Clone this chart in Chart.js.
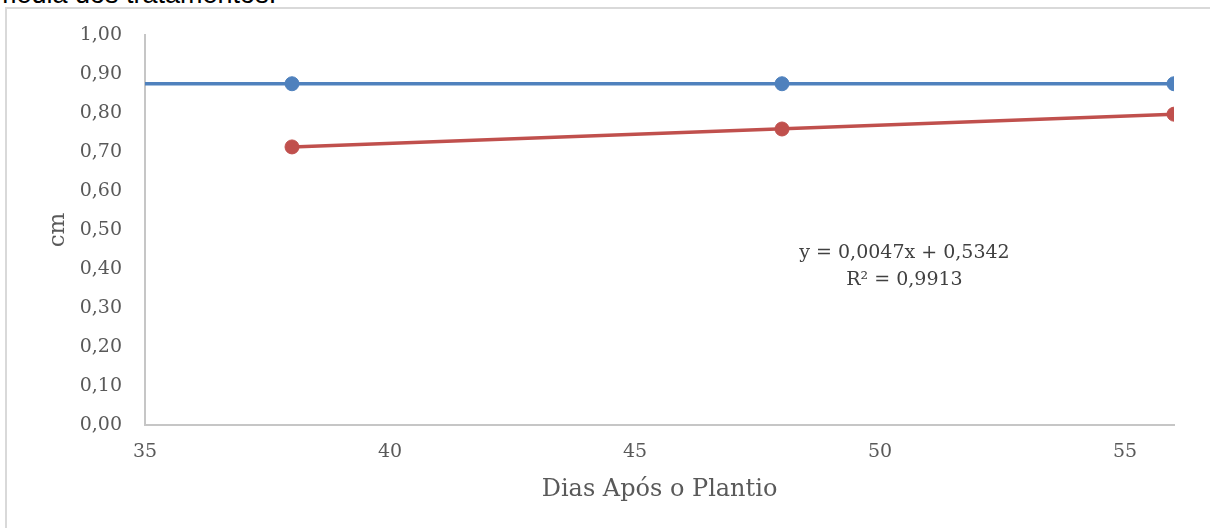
<!DOCTYPE html>
<html>
<head>
<meta charset="utf-8">
<script src="https://cdn.jsdelivr.net/npm/chart.js@4/dist/chart.umd.min.js"></script>
<style>
  html, body { margin: 0; padding: 0; background: #fff; overflow: hidden; }
  #wrap { position: relative; width: 1210px; height: 528px; }
  #texto { position: absolute; left: -6px; top: -21px; font-family: "Liberation Sans", Arial, sans-serif; font-size: 27px; color: #000; white-space: nowrap; }
  #moldura { position: absolute; left: 5px; top: 7px; width: 1220px; height: 540px; border: 2px solid #d9d9d9; box-sizing: border-box; }
  #grafico { position: absolute; left: 0; top: 0; }
</style>
</head>
<body>
<div id="wrap">
  <div id="texto">média dos tratamentos.</div>
  <div id="moldura"></div>
  <canvas id="grafico" width="1210" height="528"></canvas>
</div>
<script>
// dados
var dias = [38, 48, 56];
var serieAzul = [0.875, 0.875, 0.875];
var serieVermelha = [0.713, 0.759, 0.797];

// linhas de tendência (extremos)
var tendAzulX = [35, 56];
var tendAzulY = [0.875, 0.875];
var tendVermX = [38, 56];
var tendVermY = [0.713, 0.797];

var equacao = ['y = 0,0047x + 0,5342', 'R² = 0,9913'];
var equacaoPos = [50.5, 0.441, 0.372];

function pontos(xs, ys) {
    var out = [];
    for (var i = 0; i < xs.length; i++) out.push({x: xs[i], y: ys[i]});
    return out;
}

var fonte = '"DejaVu Serif", "Liberation Serif", serif';

var textoEquacao = {
    id: 'textoEquacao',
    afterDatasetsDraw: function(chart) {
        var ctx = chart.ctx;
        var x = chart.scales.x.getPixelForValue(equacaoPos[0]);
        ctx.save();
        ctx.font = '19px ' + fonte;
        ctx.fillStyle = '#404040';
        ctx.textAlign = 'center';
        ctx.textBaseline = 'middle';
        ctx.fillText(equacao[0], x, chart.scales.y.getPixelForValue(equacaoPos[1]));
        ctx.fillText(equacao[1], x, chart.scales.y.getPixelForValue(equacaoPos[2]));
        ctx.restore();
    }
};

var ctx = document.getElementById('grafico').getContext('2d');
var chart = new Chart(ctx, {
    type: 'scatter',
    data: {
        datasets: [
            {
                label: 'tendencia azul',
                data: pontos(tendAzulX, tendAzulY),
                showLine: true,
                borderColor: '#4F81BD',
                borderWidth: 3.5,
                pointRadius: 0
            },
            {
                label: 'tendencia vermelha',
                data: pontos(tendVermX, tendVermY),
                showLine: true,
                borderColor: '#C0504D',
                borderWidth: 3.5,
                pointRadius: 0
            },
            {
                label: 'azul',
                data: pontos(dias, serieAzul),
                backgroundColor: '#4F81BD',
                borderColor: '#4F81BD',
                pointRadius: 7,
                showLine: false
            },
            {
                label: 'vermelha',
                data: pontos(dias, serieVermelha),
                backgroundColor: '#C0504D',
                borderColor: '#C0504D',
                pointRadius: 7,
                showLine: false
            }
        ]
    },
    options: {
        responsive: false,
        animation: false,
        layout: { padding: { left: 0, right: 36, top: 35, bottom: 0 } },
        plugins: { legend: { display: false }, tooltip: { enabled: false } },
        scales: {
            x: {
                type: 'linear',
                min: 35,
                max: 56,
                afterFit: function(s) { s.height = 103; },
                afterBuildTicks: function(s) {
                    s.ticks = [35, 40, 45, 50, 55].map(function(v) { return {value: v}; });
                },
                grid: { display: false, drawTicks: false },
                border: { color: '#c6c6c6', width: 2 },
                ticks: {
                    padding: 16,
                    color: '#595959',
                    font: { family: fonte, size: 19 }
                },
                title: {
                    display: true,
                    text: 'Dias Após o Plantio',
                    color: '#595959',
                    font: { family: fonte, size: 24 },
                    padding: { bottom: 24 }
                }
            },
            y: {
                min: 0,
                max: 1,
                afterFit: function(s) { s.width = 145; },
                grid: { display: false, drawTicks: false },
                border: { color: '#c6c6c6', width: 2 },
                ticks: {
                    stepSize: 0.1,
                    padding: 23,
                    color: '#595959',
                    font: { family: fonte, size: 19 },
                    callback: function(v) { return v.toFixed(2).replace('.', ','); }
                },
                title: {
                    display: true,
                    text: 'cm',
                    color: '#595959',
                    font: { family: fonte, size: 23 },
                    padding: { top: 44 }
                }
            }
        }
    },
    plugins: [textoEquacao]
});
</script>
</body>
</html>
